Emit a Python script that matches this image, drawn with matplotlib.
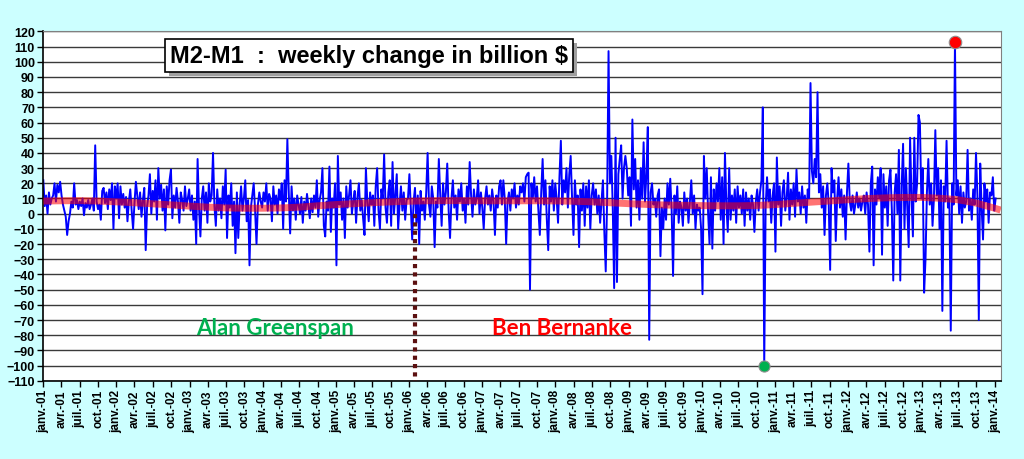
import numpy as np
import pandas as pd
import matplotlib
matplotlib.use('Agg')
import matplotlib.pyplot as plt
from matplotlib.patches import Rectangle

# weekly change M2-M1 (billion $), one row of 52 weeks per line, from 2001-01-01
weekly = [
    22, 5, 12, 0, 14, 6, 10, 12, 20, 8, 19, 14, 21,
    12, 6, 2, -2, -14, -5, 0, 8, 4, 20, 6, 9, 3,
    8, 5, 10, -1, 7, 4, 9, 3, 6, 10, 2, 45, 8,
    3, 6, -4, 15, 17, 7, 14, 3, 16, 9, 20, -10, 18,
    # 2002
    10, 20, -3, 18, 6, 13, 4, 11, -5, 8, 16, 2, -10,
    7, 21, 12, 3, 14, -2, 9, 17, -24, 5, 12, 26, 0,
    15, 8, 22, -4, 30, 10, 19, 2, 16, -11, 18, 6, 22,
    29, -3, 12, 4, 17, 8, -6, 14, 9, 2, 18, 5, 10,
    # 2003
    16, 2, 12, -4, 8, -20, 36, 4, -15, 10, 18, 2, 14,
    -6, 20, 8, 12, 40, 5, -8, 16, 2, 10, -3, 18, 6,
    29, -16, 12, 4, 20, -8, 8, -26, 14, -16, 6, 18, 2,
    10, 22, -5, 9, -34, 4, 12, 20, 2, -20, 6, 14, 8,
    # 2004
    4, 14, 8, 20, 2, 13, 10, -5, 18, 6, 12, 0, 16,
    9, 20, -10, 22, 8, 49, 14, -13, 18, 2, 10, -4, 12,
    6, 0, 11, -6, 8, 2, 13, 5, -3, 10, 1, 12, 4,
    22, -2, 9, 14, 30, -8, -15, 8, 2, 31, -12, 10, 4,
    # 2005
    20, -34, 38, 6, 14, -4, 10, -16, 18, 4, 12, 22, 0,
    8, 15, -6, 11, 20, 2, 9, -3, -14, 30, 8, -5, 14,
    6, 12, -8, 18, 30, 2, -10, 16, 10, 39, 4, -6, 14,
    22, -8, 34, 0, 12, 26, -10, 6, 18, 2, 14, -4, 9,
    # 2006
    10, 26, 4, -17, 8, 17, -6, 12, -20, 15, 2, 8, -4,
    14, 40, 6, -2, 18, 10, -22, 8, 4, 36, 12, -8, 20,
    6, 14, 33, 2, -16, 10, 22, 4, 12, -4, 16, 8, 20,
    2, 10, -6, 18, 6, 34, 12, -2, 16, 6, 10, 22, 0,
    # 2007
    14, 4, -10, 10, 18, 6, 12, 2, 16, 8, -14, 12, 4,
    18, 22, 6, 22, 10, -20, 8, 14, 2, 16, 10, 20, 4,
    12, 6, 18, 14, 20, 8, 24, 26, 27, -50, 20, 10, 24,
    8, 18, 2, -14, 14, 36, 6, 22, -4, -24, 18, 8, 22,
    # 2008
    2, 20, 10, -6, 24, 48, 6, 22, 14, 30, 4, 26, 38,
    10, -14, 22, 6, 12, -22, 16, 2, 20, -8, 18, 4, 22,
    -10, 12, 20, 6, 16, 0, 12, -6, 8, 22, -12, -38, 10,
    107, 20, 38, 4, -49, 50, -45, 26, 36, 45, 10, 30, 38,
    # 2009
    30, 12, 24, -8, 62, 16, 36, 4, 22, -4, 30, 10, 47,
    8, 26, 57, -83, 14, 20, 6, 10, -2, 12, 16, -28, 4,
    -10, 10, -4, 20, 6, 23, 2, -41, 12, 0, 18, -6, 8,
    4, -8, 14, 2, 10, -6, 8, 22, 0, 12, -10, 6, 2,
    # 2010
    4, -10, -53, 38, 10, 30, 0, -20, 24, -23, 16, 2, 20,
    8, 30, -4, 24, -20, 40, 6, -12, 30, -4, 12, 2, 16,
    -6, 18, 4, 12, 0, 16, -8, 14, 2, 10, -4, 12, 6,
    -12, 8, 16, 2, 14, 22, 70, -100, 4, 24, 8, 16, -6,
    # 2011
    12, 20, -25, 37, 6, 18, -8, 14, 22, 2, 10, 27, -4,
    16, 6, 20, -2, 29, 8, 14, 0, 18, 4, 12, -6, 16,
    10, 86, 28, 20, 36, 24, 80, 14, 26, 4, 18, -14, 12,
    20, 6, -37, 30, 14, 22, -18, 10, 24, 4, 16, -2, 12,
    # 2012
    -17, 14, 33, 8, 2, 12, 0, 6, 14, 4, 10, 2, 8,
    12, 0, 14, 6, -25, 20, 31, -34, 16, 6, 24, 10, 30,
    -27, 26, 4, 18, -8, 22, 29, 2, -44, 14, 26, 0, 42,
    -44, 18, 46, -10, 30, 4, -22, 50, 12, -15, 50, 8, 20,
    # 2013
    65, 60, 10, 30, -52, -30, 14, 36, 6, 20, -8, 10, 55,
    12, 30, -10, 22, -64, 18, 8, 48, 4, 10, -77, 20, 6,
    113, 12, 22, 0, 18, -6, 14, 4, 8, 42, 2, 10, -4,
    16, 6, 40, 12, -70, 33, 4, -17, 20, 8, 16, -6, 14,
    # 2014
    12, 24, 2, 10,
]

# smoothed trend, one value per quarter start, plus the right edge
trend_vals = [8.3, 8.5, 8.6, 8.3, 7.8, 7.2, 6.5, 5.8, 5.0, 4.3, 3.8, 3.6,
              3.6, 3.8, 4.3, 5.2, 6.0, 6.6, 7.2, 7.8, 8.2, 8.5, 8.6, 8.6,
              8.5, 8.5, 8.5, 8.5, 8.4, 8.2, 7.8, 7.2, 6.6, 6.1, 5.7, 5.5,
              5.3, 5.2, 5.2, 5.4, 6.0, 6.8, 7.6, 8.4, 9.2, 9.9, 10.4, 10.7,
              10.7, 10.2, 9.2, 7.0, 3.6, 2.4]

months_fr = ['janv.', 'avr.', 'juil.', 'oct.']
bernanke_start = '2006-02-01'

weekly = np.array(weekly, dtype=float)
dates = pd.date_range('2001-01-01', periods=len(weekly), freq='7D')
qdates = pd.date_range('2001-01-01', '2014-01-01', freq='QS')
trend_dates = list(qdates) + [pd.Timestamp('2014-01-31')]

fig = plt.figure(figsize=(10.24, 4.6), dpi=100, facecolor='#CCFFFF')
ax = fig.add_axes([0.0423, 0.170, 0.9349, 0.7596])
ax.set_facecolor('white')

ax.set_ylim(-110, 120)
ax.set_xlim(pd.Timestamp('2001-01-01'), pd.Timestamp('2014-01-31'))
ax.set_yticks(np.arange(-110, 121, 10))
ax.yaxis.grid(True, color='#3a3a3a', lw=1.0, zorder=0)
ax.set_axisbelow(True)

ax.plot(dates, weekly, color='#0000FF', lw=1.4, zorder=2)
ax.plot(trend_dates, trend_vals, color='#FF0000', lw=5, alpha=0.55,
        solid_capstyle='butt', zorder=3)

# Greenspan / Bernanke split
ax.plot([pd.Timestamp(bernanke_start)] * 2, [0, -110], color='#5C1010',
        lw=3, linestyle=(0, (1, 1)), dash_capstyle='butt', zorder=4)

imax = weekly.argmax()
imin = weekly.argmin()
ax.plot(dates[imax], weekly[imax], 'o', ms=9, mfc='#FF0000', mec='#909090',
        mew=0.8, zorder=5, clip_on=False)
ax.plot(dates[imin], weekly[imin], 'o', ms=8, mfc='#00B050', mec='#909090',
        mew=0.8, zorder=5, clip_on=False)

# x ticks: quarters, french month abbreviations
ax.set_xticks(qdates)
ax.set_xticklabels(['%s-%02d' % (months_fr[(d.month - 1) // 3], d.year % 100)
                    for d in qdates], rotation=90, fontsize=8.5,
                   fontweight='bold', family='Liberation Sans')
for lab in ax.get_yticklabels():
    lab.set_fontsize(9)
    lab.set_fontweight('bold')
    lab.set_family('Liberation Sans')
ax.tick_params(axis='x', direction='out', length=4, width=1, pad=2)
ax.tick_params(axis='y', direction='out', length=4, width=1, pad=2)

for s in ['top', 'right']:
    ax.spines[s].set_color('#808080')
for s in ['left', 'bottom']:
    ax.spines[s].set_color('black')
    ax.spines[s].set_linewidth(1.2)

title = 'M2-M1  :  weekly change in billion $'
t = ax.text(0.340, 0.931, title, transform=ax.transAxes, ha='center',
            va='center', fontsize=17, fontweight='bold',
            family='Liberation Sans', color='black',
            bbox=dict(boxstyle='square,pad=0.2', fc='white', ec='black',
                      lw=1.2), zorder=7)

ax.text(pd.Timestamp('2004-03-05'), -75, 'Alan Greenspan', color='#00B050',
        fontsize=16, fontweight='bold', family='Lato', ha='center',
        va='center', zorder=6)
ax.text(pd.Timestamp('2008-02-01'), -75, 'Ben Bernanke', color='#FF0000',
        fontsize=16, fontweight='bold', family='Lato', ha='center',
        va='center', zorder=6)

# drop shadow behind the title box (pixel coords)
fig.canvas.draw()
bb = t.get_bbox_patch().get_window_extent()
ax.add_artist(Rectangle((bb.x0 + 4, bb.y0 - 4), bb.width, bb.height,
                        transform=None, fc='#A0A0A0', ec='none', zorder=6.5))

plt.savefig('out.png', dpi=100, facecolor=fig.get_facecolor())
